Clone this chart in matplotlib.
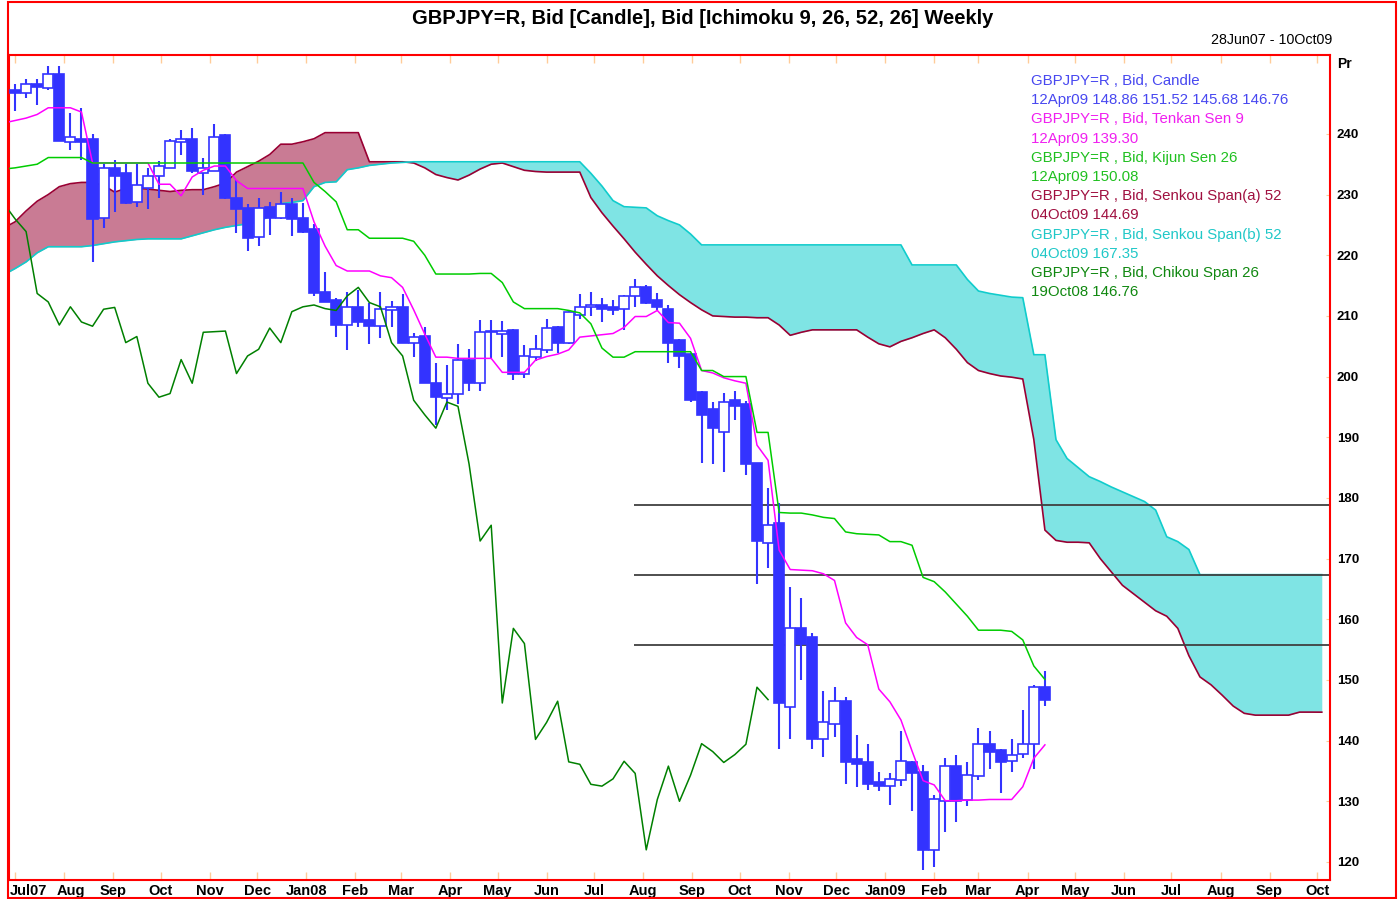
import numpy as np
import matplotlib
matplotlib.use("Agg")
import matplotlib.pyplot as plt
import matplotlib.dates as mdates
import matplotlib.transforms as mtransforms
from matplotlib.patches import Rectangle
from datetime import datetime

# weekly candles, first one dated 01Jul07, last one 12Apr09
opens = [247.3, 246.7, 248.3, 247.6, 249.9, 238.7, 239.2, 239.1, 226.2, 234.3,
         233.5, 228.7, 231.0, 233.0, 234.4, 238.7, 239.1, 233.6, 233.9, 239.8,
         229.5, 227.8, 223.0, 228.0, 226.2, 228.5, 226.2, 224.3, 214.0, 212.7,
         208.5, 211.5, 209.3, 208.3, 210.9, 211.4, 205.6, 206.7, 199.0, 196.4,
         197.1, 202.8, 198.9, 207.3, 207.0, 207.7, 200.4, 203.2, 204.3, 208.1,
         205.5, 210.1, 211.4, 211.8, 211.5, 211.1, 213.2, 214.7, 212.7, 211.1,
         206.0, 203.7, 197.4, 194.7, 190.8, 196.1, 195.5, 185.7, 172.5, 175.9,
         145.6, 158.5, 157.0, 140.2, 142.7, 146.5, 136.9, 136.4, 133.1, 132.6,
         133.5, 136.5, 134.9, 122.0, 130.0, 135.8, 130.2, 134.2, 139.5, 138.5,
         136.7, 137.8, 139.4, 148.86]
highs = [248.2, 249.1, 249.1, 251.2, 251.2, 243.4, 244.2, 239.9, 235.1, 235.7,
         235.1, 235.1, 234.3, 235.5, 239.2, 240.6, 241.0, 236.0, 241.6, 240.0,
         232.4, 228.5, 229.5, 228.8, 230.5, 229.4, 228.6, 225.1, 217.3, 213.0,
         214.0, 214.3, 212.1, 214.0, 212.4, 213.6, 207.2, 208.2, 202.2, 201.9,
         205.4, 204.5, 209.3, 209.3, 209.2, 207.8, 205.2, 206.9, 209.5, 208.4,
         210.9, 213.6, 214.0, 212.9, 212.7, 213.5, 216.0, 215.1, 213.8, 211.8,
         206.2, 203.9, 197.7, 195.8, 197.3, 197.6, 195.9, 185.8, 181.6, 179.2,
         165.3, 163.5, 157.7, 148.1, 148.8, 147.2, 140.9, 139.4, 134.9, 134.6,
         141.6, 136.7, 136.0, 131.0, 137.1, 137.6, 136.4, 142.0, 141.6, 138.6,
         140.2, 145.1, 149.2, 151.52]
lows = [243.7, 245.9, 244.7, 247.3, 238.9, 237.3, 235.7, 218.9, 224.5, 227.1,
        228.5, 228.0, 227.7, 229.4, 234.3, 236.5, 233.5, 230.0, 233.8, 229.3,
        223.6, 220.7, 221.6, 223.3, 226.0, 223.2, 223.7, 213.2, 212.3, 206.5,
        204.3, 208.2, 205.4, 206.3, 208.2, 205.6, 203.2, 198.9, 192.0, 194.5,
        195.5, 197.7, 197.7, 203.0, 203.2, 199.4, 199.7, 202.5, 203.9, 203.9,
        205.3, 209.5, 210.0, 209.0, 210.2, 207.7, 211.4, 212.0, 211.0, 202.2,
        201.4, 195.8, 185.7, 185.6, 184.2, 192.9, 183.8, 165.8, 168.4, 138.6,
        140.2, 150.0, 138.6, 137.3, 140.6, 132.8, 132.3, 131.8, 131.7, 129.4,
        132.5, 128.4, 118.6, 119.2, 125.0, 126.6, 129.2, 133.5, 135.3, 131.3,
        134.9, 137.2, 135.3, 145.68]
closes = [246.7, 248.3, 247.7, 249.9, 238.9, 239.5, 238.6, 226.0, 234.3, 233.1,
          228.6, 231.5, 233.1, 234.7, 238.8, 239.1, 233.8, 234.3, 239.5, 229.5,
          227.6, 222.9, 227.8, 226.2, 228.5, 226.0, 223.9, 213.7, 212.3, 208.5,
          211.5, 209.0, 208.3, 211.1, 211.4, 205.6, 206.6, 198.9, 196.6, 197.2,
          202.8, 198.9, 207.3, 207.4, 207.5, 200.5, 203.4, 204.5, 208.0, 205.6,
          210.7, 211.5, 211.8, 211.2, 210.9, 213.3, 214.7, 212.2, 211.5, 205.6,
          203.4, 196.1, 193.7, 191.5, 195.8, 195.1, 185.6, 172.9, 175.5, 146.2,
          158.5, 156.0, 140.2, 143.0, 146.5, 136.5, 136.1, 132.8, 132.5, 133.7,
          136.6, 134.6, 122.0, 130.3, 135.8, 130.0, 134.3, 139.5, 138.2, 136.4,
          137.7, 139.4, 148.8, 146.76]

# Ichimoku lines, one value per week starting one week before the first candle
tenkan = [241.8, 242.2, 242.6, 243.2, 244.3, 244.3, 244.3, 243.6, 235.2, 235.2,
          235.2, 235.2, 235.2, 235.2, 231.7, 231.7, 229.8, 232.9, 234.0, 234.7,
          234.7, 232.3, 231.0, 231.0, 231.0, 231.0, 231.0, 231.0, 225.5, 221.5,
          218.3, 217.4, 217.4, 217.4, 216.6, 216.3, 214.7, 211.0, 207.0, 203.2,
          203.2, 203.0, 203.0, 203.0, 203.0, 200.7, 200.7, 200.7, 202.7, 203.3,
          203.7, 204.4, 206.5, 206.7, 206.9, 207.1, 208.1, 209.9, 209.9, 210.9,
          208.9, 208.8, 206.3, 201.0, 200.6, 199.8, 199.3, 198.9, 188.7, 186.2,
          171.4, 168.2, 168.1, 168.0, 167.5, 166.4, 159.4, 157.0, 155.8, 148.5,
          146.4, 143.4, 138.3, 133.4, 132.7, 130.1, 130.1, 130.2, 130.2, 130.3,
          130.3, 130.3, 132.4, 137.1, 139.3]
kijun = [234.2, 234.4, 234.7, 235.0, 236.1, 236.1, 236.1, 236.1, 235.2, 235.2,
         235.2, 235.2, 235.2, 235.2, 235.2, 235.2, 235.2, 235.2, 235.2, 235.2,
         235.2, 235.2, 235.2, 235.2, 235.2, 235.2, 235.2, 235.2, 232.0, 230.5,
         228.8, 224.2, 224.2, 222.8, 222.8, 222.8, 222.8, 222.3, 220.0, 216.9,
         216.9, 216.9, 216.9, 217.0, 217.0, 215.5, 212.3, 211.2, 211.2, 211.2,
         211.2, 210.9, 210.5, 208.7, 204.7, 203.2, 203.2, 204.1, 204.1, 204.1,
         204.1, 204.1, 204.1, 201.0, 201.0, 200.0, 200.0, 200.0, 190.8, 190.8,
         177.6, 177.5, 177.5, 177.2, 176.8, 176.6, 174.4, 174.1, 174.0, 173.9,
         172.8, 172.8, 172.2, 166.9, 166.2, 164.5, 162.5, 160.5, 158.2, 158.2,
         158.2, 158.0, 156.6, 152.3, 150.08]
senkou_a = [224.5, 225.5, 227.3, 228.9, 230.0, 231.3, 231.8, 232.0, 232.0, 231.5,
            230.4, 231.0, 231.0, 230.9, 230.7, 230.5, 230.7, 230.8, 230.8, 231.3,
            231.9, 233.7, 234.6, 235.5, 236.6, 238.3, 238.3, 238.7, 239.2, 240.2,
            240.2, 240.2, 240.2, 235.4, 235.4, 235.4, 235.4, 235.2, 234.4, 233.3,
            232.8, 232.4, 233.2, 234.2, 235.0, 235.2, 234.6, 234.0, 233.8, 233.7,
            233.7, 233.7, 233.7, 229.5, 227.0, 224.8, 222.7, 220.5, 218.5, 216.6,
            215.0, 213.5, 212.2, 211.0, 210.0, 209.9, 209.8, 209.8, 209.7, 209.7,
            208.5, 206.8, 207.3, 207.7, 207.7, 207.7, 207.7, 207.7, 206.5, 205.4,
            204.9, 205.8, 206.4, 207.1, 207.7, 206.4, 204.5, 202.3, 201.0, 200.5,
            200.1, 199.9, 199.6, 189.6, 174.7, 173.0, 172.7, 172.7, 172.6, 170.0,
            167.8, 165.6, 164.2, 162.8, 161.4, 160.5, 158.5, 154.0, 150.5, 149.2,
            147.5, 145.7, 144.5, 144.2, 144.2, 144.2, 144.2, 144.7, 144.7, 144.69]
senkou_b = [216.8, 217.8, 218.9, 220.4, 221.4, 221.4, 221.4, 221.4, 221.6, 221.9,
            222.2, 222.4, 222.6, 222.7, 222.7, 222.7, 222.7, 223.2, 223.7, 224.2,
            224.6, 224.9, 225.2, 225.5, 226.5, 228.5, 228.7, 229.0, 231.3, 232.0,
            232.1, 234.1, 234.4, 234.8, 235.0, 235.2, 235.3, 235.4, 235.4, 235.4,
            235.4, 235.4, 235.4, 235.4, 235.4, 235.4, 235.4, 235.4, 235.4, 235.4,
            235.4, 235.4, 235.4, 233.5, 231.4, 229.0, 228.0, 227.9, 227.8, 226.5,
            225.7, 225.0, 223.5, 221.7, 221.7, 221.7, 221.7, 221.7, 221.7, 221.7,
            221.7, 221.7, 221.7, 221.7, 221.7, 221.7, 221.7, 221.7, 221.7, 221.7,
            221.7, 221.7, 218.4, 218.4, 218.4, 218.4, 218.4, 216.0, 214.1, 213.7,
            213.4, 213.1, 213.0, 203.6, 203.6, 189.6, 186.5, 185.0, 183.5, 182.7,
            181.8, 181.0, 180.2, 179.4, 178.0, 173.6, 172.8, 171.5, 167.35, 167.35,
            167.35, 167.35, 167.35, 167.35, 167.35, 167.35, 167.35, 167.35, 167.35, 167.35]

level_lines = [178.8, 167.3, 155.8]
level_start = datetime(2008, 7, 26)

month_labels = ["Jul07", "Aug", "Sep", "Oct", "Nov", "Dec", "Jan08", "Feb", "Mar",
                "Apr", "May", "Jun", "Jul", "Aug", "Sep", "Oct", "Nov", "Dec",
                "Jan09", "Feb", "Mar", "Apr", "May", "Jun", "Jul", "Aug", "Sep", "Oct"]
price_ticks = list(range(120, 250, 10))

legend_lines = [
    ("GBPJPY=R , Bid, Candle", "#4848F0"),
    ("12Apr09 148.86 151.52 145.68 146.76", "#4848F0"),
    ("GBPJPY=R , Bid, Tenkan Sen 9", "#F020F0"),
    ("12Apr09 139.30", "#F020F0"),
    ("GBPJPY=R , Bid, Kijun Sen 26", "#20C020"),
    ("12Apr09 150.08", "#20C020"),
    ("GBPJPY=R , Bid, Senkou Span(a) 52", "#A01040"),
    ("04Oct09 144.69", "#A01040"),
    ("GBPJPY=R , Bid, Senkou Span(b) 52", "#20C8C8"),
    ("04Oct09 167.35", "#20C8C8"),
    ("GBPJPY=R , Bid, Chikou Span 26", "#108810"),
    ("19Oct08 146.76", "#108810"),
]


def main():
    plt.rcParams["font.family"] = ["Liberation Sans", "DejaVu Sans"]
    W, H = 1400, 899
    fig = plt.figure(figsize=(W / 100, H / 100), dpi=100)
    ax = fig.add_axes([9 / W, 1 - 880 / H, (1330 - 9) / W, (880 - 55) / H])

    base = mdates.date2num(datetime(2007, 7, 1))
    n = len(closes)
    xc = base + 7 * np.arange(n)
    x_line = base + 7 * np.arange(-1, len(tenkan) - 1)
    x_span = base + 7 * np.arange(-1, len(senkou_a) - 1)

    # cloud
    sa = np.array(senkou_a)
    sb = np.array(senkou_b)
    ax.fill_between(x_span, sa, sb, where=sa >= sb, interpolate=True,
                    color="#C97B94", lw=0, zorder=1)
    ax.fill_between(x_span, sa, sb, where=sb >= sa, interpolate=True,
                    color="#7FE4E4", lw=0, zorder=1)
    ax.plot(x_span, sa, color="#990033", lw=1.2, zorder=2)
    ax.plot(x_span, sb, color="#10CCCC", lw=1.2, zorder=2)

    # horizontal levels
    ax.hlines(level_lines, mdates.date2num(level_start), base + 840,
              color="#404040", lw=1.3, zorder=2)

    # candles
    blue = "#3333FF"
    half = 3.2
    for i in range(n):
        ax.vlines(xc[i], lows[i], highs[i], color=blue, lw=1.5, zorder=3)
        lo, hi = min(opens[i], closes[i]), max(opens[i], closes[i])
        face = blue if closes[i] < opens[i] else "white"
        ax.add_patch(Rectangle((xc[i] - half, lo), 2 * half, max(hi - lo, 0.15),
                               facecolor=face, edgecolor=blue, lw=1.2, zorder=4))

    # ichimoku lines
    ax.plot(x_line, tenkan, color="#FF00FF", lw=1.1, zorder=5)
    ax.plot(x_line, kijun, color="#00CC00", lw=1.1, zorder=5)
    chikou = closes[24:]
    ax.plot(x_line[:len(chikou)], chikou, color="#008000", lw=1.1, zorder=5)

    ax.set_xlim(base - 3.8, base + 831.2)
    ax.set_ylim(117.03, 253.0)

    # axes styling
    for s in ax.spines.values():
        s.set_color("#FF0000")
        s.set_linewidth(1.5)
    month_ticks = [mdates.date2num(datetime(2007 + (6 + k) // 12, (6 + k) % 12 + 1, 1))
                   for k in range(len(month_labels))]
    ax.set_xticks(month_ticks)
    ax.set_xticklabels(month_labels, fontsize=10.5, fontweight="bold")
    ax.tick_params(axis="x", which="both", direction="in", length=6, color="#FFCC99",
                   width=1, top=True, bottom=True, pad=3)
    # nudge the first two month labels apart, as in the original
    labels = ax.get_xticklabels()
    labels[0].set_horizontalalignment("left")
    labels[0].set_transform(labels[0].get_transform() +
                            mtransforms.ScaledTranslation(-5 / 100, 0, fig.dpi_scale_trans))
    labels[1].set_transform(labels[1].get_transform() +
                            mtransforms.ScaledTranslation(7 / 100, 0, fig.dpi_scale_trans))
    ax.yaxis.tick_right()
    ax.set_yticks(price_ticks)
    ax.set_yticklabels([str(v) for v in price_ticks], fontsize=9.5, fontweight="bold")
    ax.tick_params(axis="y", direction="in", length=3, color="#FFCC99", pad=5)

    # texts
    fig.text(703 / W, 1 - 18 / H, "GBPJPY=R, Bid [Candle], Bid [Ichimoku 9, 26, 52, 26] Weekly",
             ha="center", va="center", fontsize=14.5, fontweight="bold")
    fig.text(1332 / W, 1 - 40 / H, "28Jun07 - 10Oct09", ha="right", va="center", fontsize=10.3)
    fig.text(1337 / W, 1 - 64 / H, "Pr", ha="left", va="center", fontsize=10, fontweight="bold")
    for k, (txt, col) in enumerate(legend_lines):
        fig.text(1031 / W, 1 - (81 + 19.2 * k) / H, txt, ha="left", va="center",
                 fontsize=10.8, color=col)

    # outer frame
    fig.add_artist(Rectangle((8 / W, 1 / H), (1396 - 8) / W, (897 - 1) / H,
                             transform=fig.transFigure, fill=False,
                             edgecolor="#FF0000", lw=1.5))

    fig.savefig("out.png", dpi=100)


if __name__ == "__main__":
    main()
